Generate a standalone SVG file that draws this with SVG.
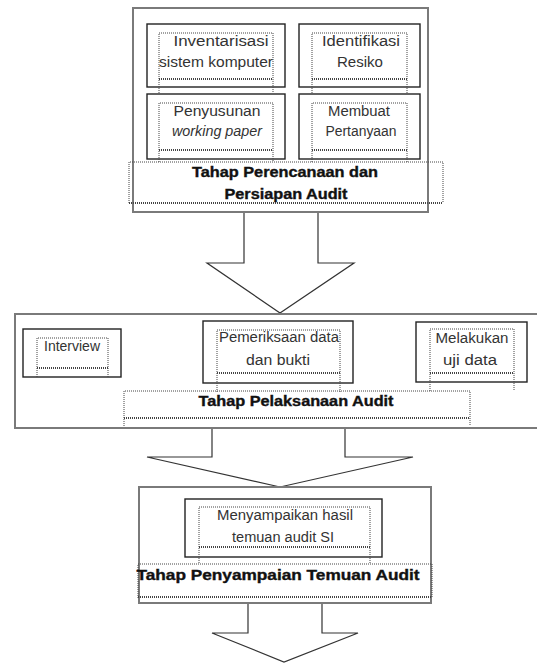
<svg xmlns="http://www.w3.org/2000/svg" width="537" height="664" viewBox="0 0 537 664">
<style>
.outer{fill:#fff;stroke:#7a7a7a;stroke-width:2}
.inner{fill:none;stroke:#222;stroke-width:1.4}
.dot{fill:none;stroke:#444;stroke-width:1;stroke-dasharray:1 1}
.dot2{fill:none;stroke:#444;stroke-width:2;stroke-dasharray:1 1}
.t{font-family:"Liberation Sans",Arial,sans-serif;font-size:15.5px;fill:#333;text-anchor:middle}
.ti{font-style:italic}
.h{font-family:"Liberation Sans",Arial,sans-serif;font-size:14px;font-weight:bold;fill:#111;stroke:#111;stroke-width:0.35;text-anchor:middle}
.arrow{fill:#fff;stroke:#333;stroke-width:1.2;stroke-linejoin:miter}
</style>
<rect x="0" y="0" width="537" height="664" fill="#fff"/>

<g id="connectors">
<polyline class="arrow" points="244,212 244,263 207,263 280,313 354,263 318,263 318,212"/>
<polyline class="arrow" points="212,428 212,457 147,457 280,487 413,457 345,457 345,428"/>
<polyline class="arrow" points="248,603 248,633 212,633 284,662 358,633 322,633 322,603"/>
</g>

<g id="stage-perencanaan">
<rect class="outer" x="133" y="8" width="295" height="204"/>
<g id="inventarisasi">
<rect class="inner" x="147" y="24" width="138" height="63"/>
<path class="dot" d="M159,93 V33 H273 V93"/>
<path class="dot2" d="M159,79 H273"/>
<text class="t" x="221" y="46" textLength="95" lengthAdjust="spacingAndGlyphs">Inventarisasi</text>
<text class="t" x="216" y="67" textLength="114" lengthAdjust="spacingAndGlyphs">sistem komputer</text>
</g>
<g id="identifikasi">
<rect class="inner" x="299" y="24" width="121" height="63"/>
<path class="dot" d="M312,93 V33 H407 V93"/>
<path class="dot2" d="M312,79 H407"/>
<text class="t" x="361" y="46" textLength="78" lengthAdjust="spacingAndGlyphs">Identifikasi</text>
<text class="t" x="360" y="67" textLength="46" lengthAdjust="spacingAndGlyphs">Resiko</text>
</g>
<g id="penyusunan">
<rect class="inner" x="147" y="94" width="138" height="65"/>
<path class="dot" d="M159,162 V103 H273 V162"/>
<path class="dot2" d="M159,150 H273"/>
<text class="t" x="217" y="116" textLength="87" lengthAdjust="spacingAndGlyphs">Penyusunan</text>
<text class="t ti" x="217" y="136" textLength="90" lengthAdjust="spacingAndGlyphs">working paper</text>
</g>
<g id="membuat">
<rect class="inner" x="299" y="94" width="121" height="65"/>
<path class="dot" d="M312,162 V103 H407 V162"/>
<path class="dot2" d="M312,150 H407"/>
<text class="t" x="359" y="116" textLength="62" lengthAdjust="spacingAndGlyphs">Membuat</text>
<text class="t" x="361" y="136" textLength="71" lengthAdjust="spacingAndGlyphs">Pertanyaan</text>
</g>
<g id="judul-perencanaan">
<path class="dot" d="M129,203 V162 H443 V203"/>
<path class="dot2" d="M129,203 H443"/>
<text class="h" x="285" y="177" textLength="186" lengthAdjust="spacingAndGlyphs">Tahap Perencanaan dan</text>
<text class="h" x="286" y="199" textLength="123" lengthAdjust="spacingAndGlyphs">Persiapan Audit</text>
</g>
</g>

<g id="stage-pelaksanaan">
<rect class="outer" x="15" y="314" width="530" height="114"/>
<g id="interview">
<rect class="inner" x="23" y="329" width="98" height="48"/>
<path class="dot" d="M37,377 V338 H108 V377"/>
<path class="dot2" d="M37,368 H108"/>
<text class="t" x="72" y="351" textLength="56" lengthAdjust="spacingAndGlyphs">Interview</text>
</g>
<g id="pemeriksaan">
<rect class="inner" x="203" y="321" width="150" height="62"/>
<path class="dot" d="M217,392 V330 H340 V392"/>
<path class="dot2" d="M217,373 H340"/>
<text class="t" x="279" y="342" textLength="120" lengthAdjust="spacingAndGlyphs">Pemeriksaan data</text>
<text class="t" x="278" y="365" textLength="64" lengthAdjust="spacingAndGlyphs">dan bukti</text>
</g>
<g id="uji-data">
<rect class="inner" x="416" y="322" width="111" height="60"/>
<path class="dot" d="M430,391 V329 H514 V391"/>
<path class="dot2" d="M430,373 H514"/>
<text class="t" x="472" y="343" textLength="73" lengthAdjust="spacingAndGlyphs">Melakukan</text>
<text class="t" x="470" y="365" textLength="54" lengthAdjust="spacingAndGlyphs">uji data</text>
</g>
<g id="judul-pelaksanaan">
<path class="dot" d="M124,426 V391 H470 V426"/>
<path class="dot2" d="M124,418 H470"/>
<text class="h" x="296" y="406" textLength="195" lengthAdjust="spacingAndGlyphs">Tahap Pelaksanaan Audit</text>
</g>
</g>

<g id="stage-penyampaian">
<rect class="outer" x="139" y="487" width="292" height="116"/>
<g id="menyampaikan">
<rect class="inner" x="185" y="499" width="197" height="58"/>
<path class="dot" d="M199,563 V507 H370 V563"/>
<path class="dot2" d="M199,547 H370"/>
<text class="t" x="285" y="520" textLength="136" lengthAdjust="spacingAndGlyphs">Menyampaikan hasil</text>
<text class="t" x="283" y="542" textLength="102" lengthAdjust="spacingAndGlyphs">temuan audit SI</text>
</g>
<g id="judul-penyampaian">
<path class="dot" d="M138,598 V564 H432 V598"/>
<path class="dot2" d="M138,597 H432"/>
<text class="h" x="278" y="580" textLength="283" lengthAdjust="spacingAndGlyphs">Tahap Penyampaian Temuan Audit</text>
</g>
</g>
</svg>
